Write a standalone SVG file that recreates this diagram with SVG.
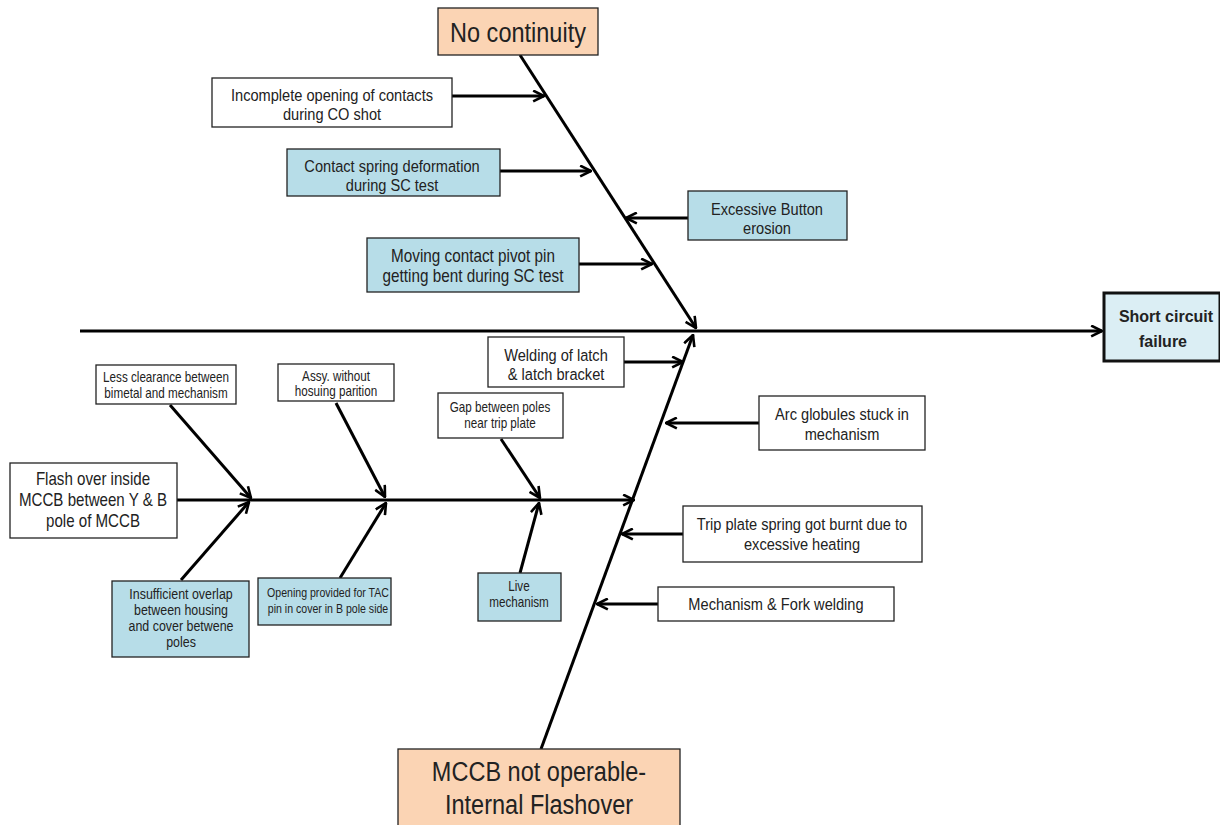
<svg xmlns="http://www.w3.org/2000/svg" width="1220" height="825" viewBox="0 0 1220 825">
<defs>
<marker id="ah" viewBox="0 0 12 12" refX="11" refY="6" markerWidth="13" markerHeight="13" markerUnits="userSpaceOnUse" orient="auto">
<path d="M1,1 L11,6 L1,11" fill="none" stroke="#000" stroke-width="2.4"/>
</marker>
</defs>
<style>
.b{stroke:#222;stroke-width:1.3}
.w{fill:#fff}
.bl{fill:#b7dde8}
.pe{fill:#fbd4b4}
.t{font-family:"Liberation Sans",Arial,sans-serif;fill:#222;text-anchor:middle;transform-box:fill-box;transform-origin:center;transform:scaleX(0.84)}
.m{font-size:17.4px}
.s{font-size:13.9px}
.ca{stroke:#000;stroke-width:3;fill:none;marker-end:url(#ah)}
</style>
<rect width="1220" height="825" fill="#fff"/>
<g id="connectors">
<line class="ca" x1="80" y1="331" x2="1102" y2="331"/>
<line class="ca" x1="520" y1="55" x2="696" y2="328"/>
<line class="ca" x1="541" y1="749" x2="693" y2="335"/>
<line class="ca" x1="177" y1="500" x2="634" y2="500"/>
<line class="ca" x1="452" y1="96" x2="544" y2="96"/>
<line class="ca" x1="500" y1="171" x2="591" y2="171"/>
<line class="ca" x1="688" y1="218" x2="626" y2="218"/>
<line class="ca" x1="579" y1="264" x2="652" y2="264"/>
<line class="ca" x1="624" y1="362" x2="683" y2="362"/>
<line class="ca" x1="759" y1="423" x2="666" y2="423"/>
<line class="ca" x1="683" y1="534" x2="622" y2="534"/>
<line class="ca" x1="658" y1="604" x2="597" y2="604"/>
<line class="ca" x1="170" y1="405" x2="251" y2="498"/>
<line class="ca" x1="336" y1="403" x2="385" y2="497"/>
<line class="ca" x1="501" y1="439" x2="540" y2="498"/>
<line class="ca" x1="181" y1="580" x2="249" y2="502"/>
<line class="ca" x1="340" y1="578" x2="386" y2="503"/>
<line class="ca" x1="520" y1="573" x2="539" y2="503"/>
</g>
<g id="n-effect">
<rect x="1104" y="293" width="116" height="68" fill="#dbeef4" stroke="#111" stroke-width="3"/>
<text x="1166" y="322" font-size="16" font-weight="bold" font-family="Liberation Sans, Arial, sans-serif" fill="#222" text-anchor="middle">Short circuit</text>
<text x="1163" y="347" font-size="16" font-weight="bold" font-family="Liberation Sans, Arial, sans-serif" fill="#222" text-anchor="middle">failure</text>
</g>
<g id="n-nocont">
<rect class="b pe" x="438" y="8" width="160" height="47"/>
<text class="t" x="518" y="42" font-size="28">No continuity</text>
</g>
<g id="n-mccb">
<rect class="b pe" x="398" y="749" width="282" height="80"/>
<text class="t" x="539" y="781" font-size="28">MCCB not operable-</text>
<text class="t" x="539" y="814" font-size="28">Internal Flashover</text>
</g>
<g id="n-incomplete">
<rect class="b w" x="212" y="78" width="240" height="49"/>
<text class="t m" x="332" y="101">Incomplete opening of contacts</text>
<text class="t m" x="332" y="120">during CO shot</text>
</g>
<g id="n-spring">
<rect class="b bl" x="287" y="149" width="213" height="47"/>
<text class="t m" x="392" y="172">Contact spring deformation</text>
<text class="t m" x="392" y="191">during SC test</text>
</g>
<g id="n-button">
<rect class="b bl" x="688" y="191" width="159" height="49"/>
<text class="t m" x="767" y="215">Excessive Button</text>
<text class="t m" x="767" y="234">erosion</text>
</g>
<g id="n-pivot">
<rect class="b bl" x="367" y="238" width="212" height="54"/>
<text class="t" x="473" y="262" font-size="18.2">Moving contact pivot pin</text>
<text class="t" x="473" y="282" font-size="18.2">getting bent during SC test</text>
</g>
<g id="n-latch">
<rect class="b w" x="488" y="337" width="136" height="50"/>
<text class="t m" x="556" y="361">Welding of latch</text>
<text class="t m" x="556" y="380">&amp; latch bracket</text>
</g>
<g id="n-arc">
<rect class="b w" x="759" y="396" width="166" height="54"/>
<text class="t m" x="842" y="420">Arc globules stuck in</text>
<text class="t m" x="842" y="440">mechanism</text>
</g>
<g id="n-trip">
<rect class="b w" x="683" y="506" width="239" height="56"/>
<text class="t m" x="802" y="530">Trip plate spring got burnt due to</text>
<text class="t m" x="802" y="550">excessive heating</text>
</g>
<g id="n-fork">
<rect class="b w" x="658" y="587" width="236" height="34"/>
<text class="t m" x="776" y="610">Mechanism &amp; Fork welding</text>
</g>
<g id="n-flash">
<rect class="b w" x="10" y="463" width="167" height="75"/>
<text class="t" x="93" y="485" font-size="18">Flash over inside</text>
<text class="t" x="93" y="506" font-size="18">MCCB between Y &amp; B</text>
<text class="t" x="93" y="527" font-size="18">pole of MCCB</text>
</g>
<g id="n-clearance">
<rect class="b w" x="96" y="365" width="140" height="39"/>
<text class="t s" x="166" y="382">Less clearance between</text>
<text class="t s" x="166" y="398">bimetal and mechanism</text>
</g>
<g id="n-assy">
<rect class="b w" x="278" y="364" width="116" height="37"/>
<text class="t s" x="336" y="381">Assy. without</text>
<text class="t s" x="336" y="396">hosuing parition</text>
</g>
<g id="n-gap">
<rect class="b w" x="438" y="393" width="125" height="45"/>
<text class="t s" x="500" y="412">Gap between poles</text>
<text class="t s" x="500" y="428">near trip plate</text>
</g>
<g id="n-overlap">
<rect class="b bl" x="112" y="581" width="137" height="76"/>
<text class="t" x="181" y="599" font-size="14.8">Insufficient overlap</text>
<text class="t" x="181" y="615" font-size="14.8">between housing</text>
<text class="t" x="181" y="631" font-size="14.8">and cover betwene</text>
<text class="t" x="181" y="647" font-size="14.8">poles</text>
</g>
<g id="n-tac">
<rect class="b bl" x="258" y="578" width="133" height="47"/>
<text class="t" x="328" y="597" font-size="12.6">Opening provided for TAC</text>
<text class="t" x="328" y="613" font-size="12.6">pin in cover in B pole side</text>
</g>
<g id="n-live">
<rect class="b bl" x="478" y="573" width="83" height="48"/>
<text class="t s" x="519" y="591">Live</text>
<text class="t s" x="519" y="607">mechanism</text>
</g>
</svg>
